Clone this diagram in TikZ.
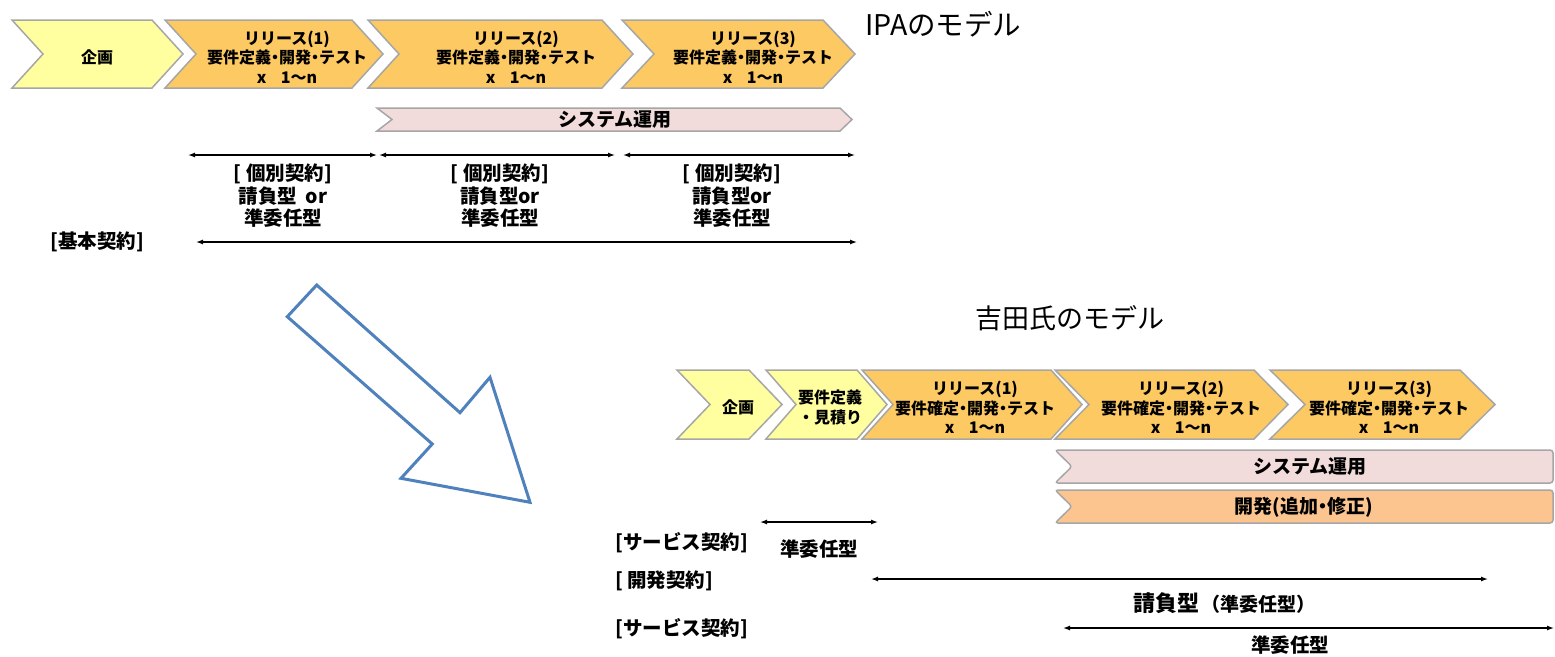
\documentclass[tikz,border=0pt]{standalone}
\usepackage{fontspec}
\setmainfont{Noto Sans CJK JP}
\usetikzlibrary{arrows.meta}
\definecolor{plan}{HTML}{FFFFA0}
\definecolor{rel}{HTML}{FDC962}
\definecolor{ops}{HTML}{F2DCDB}
\definecolor{dev}{HTML}{FCC590}
\definecolor{edgegray}{HTML}{A6A6A6}
\definecolor{bluearr}{HTML}{4F81BD}
\tikzset{
  shapeline/.style={draw=edgegray, line width=1.5pt, line join=miter},
  chevtext/.style={font=\bfseries\fontsize{16}{19.5}\selectfont, align=center, inner sep=0pt},
  bartext/.style={font=\bfseries\fontsize{19}{21}\selectfont, inner sep=0pt},
  dimarrow/.style={{Latex[length=7pt,width=5pt]}-{Latex[length=7pt,width=5pt]}, line width=1.3pt},
  lbl/.style={font=\bfseries\fontsize{19.5}{22.5}\selectfont, align=center, inner sep=0pt},
  lblb/.style={font=\bfseries\fontsize{19.5}{22}\selectfont, inner sep=0pt},
  title/.style={font=\fontsize{27}{30}\selectfont, inner sep=0pt, anchor=west},
}
\newcommand{\xn}{x\hspace{0.9em}1〜n}
\newcommand{\nd}{\makebox[0.5em]{・}}
% #1 name, #2 left, #3 right, #4 top, #5 bottom, #6 depth, #7 fill, #8 text x, #9 text
\newcommand{\chevshape}[9]{%
  \path[shapeline, fill=#7] (#2,#4) -- (#3-#6,#4) -- (#3,{(#4+#5)/2}) -- (#3-#6,#5) -- (#2,#5) -- (#2+#6,{(#4+#5)/2}) -- cycle;
  \node[chevtext] (#1) at (#8,{(#4+#5)/2+3}) {#9};
}
\begin{document}
\begin{tikzpicture}[x=1pt,y=-1pt]
\useasboundingbox (0,0) rectangle (1555,656);

% ---------- IPA model ----------
\chevshape{p1}{12}{183}{20}{88}{31}{plan}{97}{企画}
\chevshape{r1}{165}{383}{20}{88}{31}{rel}{287}{リリース(1)\\要件定義\nd 開発\nd テスト\\\xn}
\chevshape{r2}{368}{633}{20}{88}{31}{rel}{516}{リリース(2)\\要件定義\nd 開発\nd テスト\\\xn}
\chevshape{r3}{622}{855}{20}{88}{32}{rel}{753}{リリース(3)\\要件定義\nd 開発\nd テスト\\\xn}

\path[shapeline, fill=ops] (377,108) -- (840,108) -- (852,119.5) -- (840,131) -- (377,131) -- (392,119.5) -- cycle;
\node[bartext] (ops1) at (615,119.5) {システム運用};

\node[title, font=\fontsize{28.5}{30}\selectfont] (t1) at (865,24) {IPAのモデル};

\coordinate (a1l) at (188,155); \coordinate (a1r) at (377,155);
\coordinate (a2l) at (379,155); \coordinate (a2r) at (615,155);
\coordinate (a3l) at (623,155); \coordinate (a3r) at (855,155);
\draw[dimarrow] (a1l) -- (a1r);
\draw[dimarrow] (a2l) -- (a2r);
\draw[dimarrow] (a3l) -- (a3r);
\node[lbl] (k1) at (283,196) {[ 個別契約]\\請負型\ \ or\\準委任型};
\node[lbl] (k2) at (500,196) {[ 個別契約]\\請負型or\\準委任型};
\node[lbl] (k3) at (732,196) {[ 個別契約]\\請負型or\\準委任型};

\node[lbl] (base) at (97,242) {[基本契約]};
\coordinate (bl) at (196,242); \coordinate (br) at (857,242);
\draw[dimarrow] (bl) -- (br);

% ---------- big arrow ----------
\draw[draw=bluearr, line width=3pt, line join=miter]
  (316.7,285) -- (287.3,316.7) -- (432.3,444) -- (401,478.3) -- (530,502.3) -- (490,377.3) -- (460,412.7) -- cycle;

% ---------- Yoshida model ----------
\node[title] (t2) at (975,318) {吉田氏のモデル};

\chevshape{q1}{677}{782}{370}{439}{33}{plan}{738}{企画}
\chevshape{q2}{766}{887}{370}{439}{30}{plan}{830}{要件定義\\・見積り}
\chevshape{s1}{862}{1082}{370}{439}{31}{rel}{975}{リリース(1)\\要件確定\nd 開発\nd テスト\\\xn}
\chevshape{s2}{1055}{1288}{370}{439}{34}{rel}{1181}{リリース(2)\\要件確定\nd 開発\nd テスト\\\xn}
\chevshape{s3}{1270}{1495}{370}{439}{35}{rel}{1389}{リリース(3)\\要件確定\nd 開発\nd テスト\\\xn}

\path[shapeline, fill=ops, rounded corners=3pt] (1055,450) -- (1553,450) -- (1553,483) -- (1055,483) -- (1072,466.5) -- cycle;
\node[bartext] (ops2) at (1310,467) {システム運用};
\path[shapeline, fill=dev, rounded corners=3pt] (1055,490) -- (1553,490) -- (1553,523) -- (1055,523) -- (1072,506.5) -- cycle;
\node[bartext] (dev2) at (1304,507) {開発(追加\nd 修正)};

\node[lblb, anchor=west] (c1) at (615,543) {[サービス契約]};
\node[lblb, anchor=west] (c2) at (615,581) {[ 開発契約]};
\node[lblb, anchor=west] (c3) at (615,629) {[サービス契約]};

\coordinate (b1l) at (760,522); \coordinate (b1r) at (878,522);
\draw[dimarrow] (b1l) -- (b1r);
\node[lblb] (m1) at (819,549) {準委任型};

\coordinate (b2l) at (871,579); \coordinate (b2r) at (1488,579);
\draw[dimarrow] (b2l) -- (b2r);
\node[inner sep=0pt, anchor=west, font=\bfseries] (m2) at (1133,603) {{\fontsize{22}{24}\selectfont 請負型}\hspace{2pt}{\fontsize{19}{21}\selectfont （準委任型）}};

\coordinate (b3l) at (1063,628); \coordinate (b3r) at (1554,628);
\draw[dimarrow] (b3l) -- (b3r);
\node[lblb] (m3) at (1290,645) {準委任型};
\end{tikzpicture}
\end{document}
